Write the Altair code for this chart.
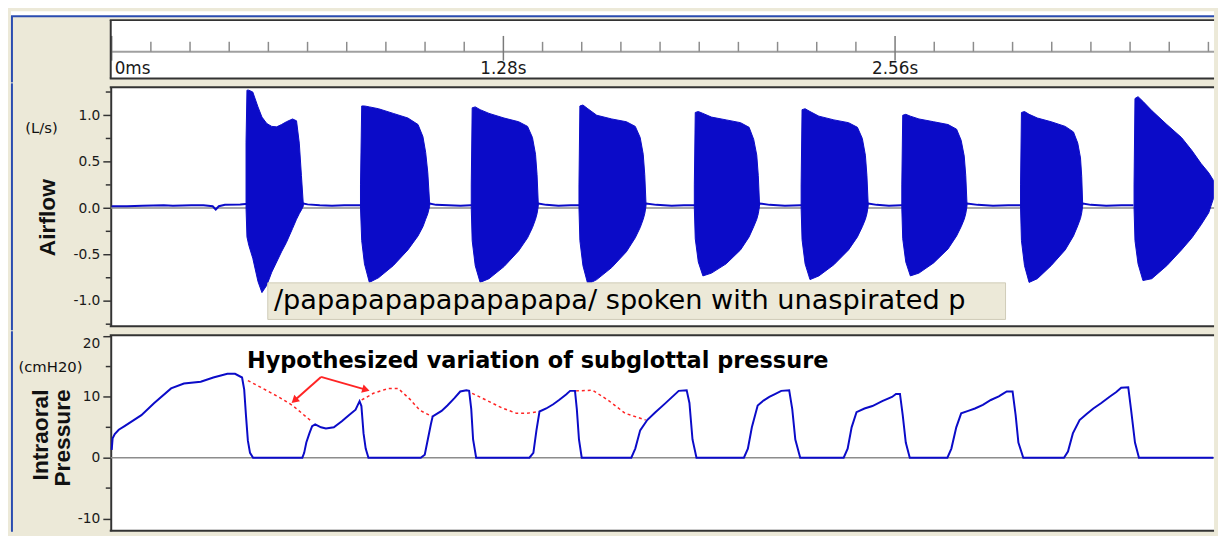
import altair as alt
import pandas as pd

# ---------------- data ----------------
ruler_major_t = [0.0, 1.28, 2.56]
ruler_major_label = ["0ms", "1.28s", "2.56s"]
ruler_minor_t = [0.128, 0.256, 0.384, 0.512, 0.64, 0.768, 0.896, 1.024, 1.152,
                 1.408, 1.536, 1.664, 1.792, 1.92, 2.048, 2.176, 2.304, 2.432,
                 2.688, 2.816, 2.944, 3.072, 3.2, 3.328, 3.456, 3.584]

airflow_ticks = [-1.0, -0.5, 0.0, 0.5, 1.0]
airflow_minor = [-1.25, -0.75, -0.25, 0.25, 0.75, 1.25]
pressure_ticks = [-10, 0, 10, 20]
pressure_minor = [-5, 5, 15]

# airflow between voiced bursts (s, L/s)
flow_base_t = [0.000, 0.050, 0.100, 0.170, 0.200, 0.260, 0.300, 0.330, 0.340, 0.350, 0.370, 0.420, 0.437,
               0.626, 0.640, 0.680, 0.720, 0.760, 0.800, 0.812,
               1.039, 1.060, 1.100, 1.140, 1.173,
               1.394, 1.420, 1.460, 1.500, 1.525,
               1.746, 1.780, 1.830, 1.870, 1.902,
               2.117, 2.150, 2.200, 2.251,
               2.472, 2.500, 2.540, 2.580,
               2.795, 2.830, 2.880, 2.930, 2.968,
               3.173, 3.200, 3.250, 3.300, 3.339]
flow_base_v = [0.02, 0.02, 0.025, 0.03, 0.025, 0.03, 0.03, 0.02, -0.015, 0.02, 0.035, 0.04, 0.045,
               0.05, 0.04, 0.03, 0.025, 0.03, 0.03, 0.03,
               0.05, 0.035, 0.03, 0.025, 0.03,
               0.05, 0.035, 0.025, 0.03, 0.03,
               0.05, 0.035, 0.025, 0.03, 0.03,
               0.05, 0.035, 0.025, 0.03,
               0.05, 0.035, 0.025, 0.03,
               0.05, 0.035, 0.025, 0.03, 0.03,
               0.05, 0.035, 0.025, 0.03, 0.03]

# voiced bursts: time, upper envelope, lower envelope
b1_t = [0.439, 0.442, 0.448, 0.461, 0.478, 0.491, 0.507, 0.523, 0.539, 0.555, 0.571, 0.591, 0.604, 0.613, 0.620, 0.626]
b1_up = [0.71, 1.27, 1.27, 1.25, 1.09, 0.98, 0.91, 0.88, 0.875, 0.90, 0.93, 0.96, 0.94, 0.70, 0.35, 0.05]
b1_lo = [0.0, -0.31, -0.40, -0.54, -0.79, -0.91, -0.83, -0.69, -0.58, -0.47, -0.37, -0.22, -0.12, -0.06, -0.02, 0.02]

b2_t = [0.813, 0.817, 0.826, 0.842, 0.872, 0.920, 0.968, 1.001, 1.017, 1.026, 1.033, 1.039]
b2_up = [0.25, 1.10, 1.10, 1.09, 1.07, 1.02, 0.97, 0.90, 0.77, 0.60, 0.38, 0.05]
b2_lo = [0.0, -0.35, -0.60, -0.80, -0.75, -0.62, -0.45, -0.30, -0.20, -0.12, -0.06, 0.02]

b3_t = [1.175, 1.178, 1.188, 1.204, 1.233, 1.282, 1.330, 1.359, 1.375, 1.385, 1.390, 1.394]
b3_up = [0.25, 1.08, 1.09, 1.06, 1.02, 0.97, 0.93, 0.88, 0.76, 0.58, 0.36, 0.05]
b3_lo = [0.0, -0.35, -0.62, -0.80, -0.76, -0.63, -0.46, -0.32, -0.21, -0.12, -0.06, 0.02]

b4_t = [1.527, 1.530, 1.540, 1.556, 1.585, 1.634, 1.682, 1.711, 1.727, 1.737, 1.742, 1.746]
b4_up = [0.25, 1.10, 1.11, 1.07, 1.00, 0.96, 0.93, 0.88, 0.76, 0.58, 0.36, 0.05]
b4_lo = [0.0, -0.35, -0.62, -0.82, -0.77, -0.64, -0.47, -0.32, -0.21, -0.12, -0.06, 0.02]

b5_t = [1.904, 1.907, 1.917, 1.932, 1.960, 2.008, 2.055, 2.083, 2.098, 2.108, 2.113, 2.117]
b5_up = [0.25, 1.03, 1.04, 1.02, 0.98, 0.95, 0.92, 0.87, 0.74, 0.57, 0.35, 0.05]
b5_lo = [0.0, -0.33, -0.58, -0.73, -0.70, -0.60, -0.45, -0.31, -0.20, -0.12, -0.06, 0.02]

b6_t = [2.253, 2.256, 2.266, 2.282, 2.311, 2.360, 2.408, 2.437, 2.453, 2.463, 2.468, 2.472]
b6_up = [0.25, 1.06, 1.07, 1.04, 0.99, 0.95, 0.92, 0.87, 0.75, 0.57, 0.35, 0.05]
b6_lo = [0.0, -0.34, -0.60, -0.77, -0.73, -0.61, -0.45, -0.31, -0.20, -0.12, -0.06, 0.02]

b7_t = [2.582, 2.585, 2.595, 2.610, 2.638, 2.686, 2.733, 2.761, 2.776, 2.786, 2.791, 2.795]
b7_up = [0.25, 1.00, 1.01, 0.99, 0.96, 0.93, 0.90, 0.85, 0.73, 0.56, 0.35, 0.05]
b7_lo = [0.0, -0.33, -0.58, -0.73, -0.70, -0.59, -0.44, -0.30, -0.20, -0.12, -0.06, 0.02]

b8_t = [2.970, 2.973, 2.983, 2.998, 3.025, 3.070, 3.116, 3.143, 3.157, 3.166, 3.170, 3.173]
b8_up = [0.25, 1.03, 1.04, 1.01, 0.97, 0.93, 0.88, 0.82, 0.70, 0.54, 0.34, 0.05]
b8_lo = [0.0, -0.35, -0.62, -0.80, -0.76, -0.62, -0.45, -0.30, -0.19, -0.11, -0.05, 0.02]

b9_t = [3.341, 3.344, 3.354, 3.370, 3.399, 3.448, 3.496, 3.530, 3.560, 3.585, 3.600]
b9_up = [0.25, 1.18, 1.20, 1.15, 1.05, 0.90, 0.76, 0.62, 0.48, 0.38, 0.30]
b9_lo = [0.0, -0.35, -0.60, -0.78, -0.76, -0.62, -0.45, -0.32, -0.18, -0.05, 0.10]

# intraoral pressure (s, cmH2O)
pres_t = [0.000, 0.003, 0.010, 0.023, 0.042, 0.097, 0.139, 0.194, 0.236, 0.291, 0.332, 0.378, 0.403, 0.426, 0.433, 0.439, 0.445, 0.452, 0.462,
          0.623, 0.629, 0.636, 0.646, 0.655, 0.665, 0.684, 0.700, 0.726, 0.752, 0.775, 0.797, 0.810, 0.816, 0.823, 0.830, 0.839,
          1.010, 1.023, 1.033, 1.043, 1.049, 1.078, 1.097, 1.120, 1.139, 1.159, 1.168, 1.175, 1.181, 1.191,
          1.365, 1.378, 1.388, 1.398, 1.420, 1.443, 1.462, 1.485, 1.498, 1.514, 1.520, 1.527, 1.536,
          1.698, 1.711, 1.727, 1.750, 1.775, 1.808, 1.853, 1.879, 1.888, 1.898, 1.911,
          2.066, 2.079, 2.092, 2.111, 2.130, 2.149, 2.169, 2.188, 2.214, 2.224, 2.234, 2.250,
          2.392, 2.405, 2.418, 2.434, 2.460, 2.486, 2.518, 2.550, 2.563, 2.576, 2.585, 2.595, 2.608,
          2.731, 2.744, 2.760, 2.776, 2.799, 2.821, 2.847, 2.873, 2.899, 2.912, 2.925, 2.944, 2.954, 2.963, 2.979,
          3.112, 3.125, 3.141, 3.163, 3.186, 3.208, 3.234, 3.260, 3.283, 3.299, 3.322, 3.331, 3.344, 3.357,
          3.600]
pres_v = [1.3, 3.2, 3.9, 4.6, 5.2, 7.0, 9.0, 11.4, 12.2, 12.5, 13.2, 13.8, 13.8, 13.2, 11.2, 6.8, 2.8, 0.8, 0.0,
          0.0, 0.8, 2.5, 4.0, 5.2, 5.5, 5.0, 4.8, 5.0, 6.0, 7.0, 7.9, 9.3, 8.5, 4.0, 1.5, 0.0,
          0.0, 0.5, 3.0, 5.5, 6.8, 7.7, 8.6, 9.8, 10.9, 11.1, 11.0, 8.0, 3.0, 0.0,
          0.0, 0.8, 4.5, 7.6, 8.1, 8.8, 9.5, 10.4, 11.0, 11.0, 8.0, 3.0, 0.0,
          0.0, 1.5, 4.5, 6.2, 7.4, 8.9, 11.0, 11.1, 9.0, 3.0, 0.0,
          0.0, 1.5, 5.0, 8.6, 9.4, 10.0, 10.5, 11.0, 11.1, 8.0, 3.0, 0.0,
          0.0, 1.5, 5.0, 7.5, 8.1, 8.5, 9.3, 10.0, 10.5, 10.5, 7.0, 2.5, 0.0,
          0.0, 1.5, 5.0, 7.3, 7.7, 8.1, 8.7, 9.5, 10.1, 10.5, 10.9, 10.9, 7.0, 2.5, 0.0,
          0.0, 1.0, 4.0, 6.2, 7.2, 8.1, 9.0, 10.0, 10.8, 11.5, 11.6, 8.0, 2.5, 0.0,
          0.0]

# hypothesized subglottal pressure (dashed red), visible segments
sub1_t = [0.445, 0.494, 0.549, 0.591, 0.655]
sub1_v = [12.7, 11.4, 9.9, 8.6, 5.9]
sub2_t = [0.817, 0.855, 0.904, 0.936, 0.975, 1.007, 1.046]
sub2_v = [9.5, 10.6, 11.4, 11.4, 9.6, 7.8, 6.8]
sub3_t = [1.178, 1.227, 1.275, 1.323, 1.356, 1.398]
sub3_v = [10.6, 9.4, 8.2, 7.3, 7.3, 7.6]
sub4_t = [1.517, 1.572, 1.624, 1.678, 1.745]
sub4_v = [11.0, 11.1, 9.4, 7.3, 6.2]

# annotation arrows (origin -> head)
arrow_from = (0.684, 13.3)
arrow_heads = [(0.600, 9.55), (0.827, 11.24)]

note_text = "Hypothesized variation of subglottal pressure"
note_pos = (0.442, 14.8)
box_text = "/papapapapapapapapa/ spoken with unaspirated p"
box_extent = (0.510, 2.921, -0.805, -1.199)
box_text_pos = (0.530, -1.0)

# ---------------- styling / layout ----------------
BLUE = "#0b0bc8"
RED = "#ff2424"
BEIGE = "#ece9d8"
FRAME = "#333333"
XPBLUE = "#2a4cb0"
T0, T1 = -0.0032, 3.6024
W = 1117
H_R, H_A, H_P = 59, 242, 198

xs = alt.Scale(domain=[T0, T1], nice=False, zero=False)
ya = alt.Scale(domain=[-1.273, 1.301], nice=False, zero=False)
yp = alt.Scale(domain=[-12.03, 20.16], nice=False, zero=False)


def X(field="t"):
    return alt.X(f"{field}:Q", scale=xs, axis=None)


axis_common = dict(tickSize=8, tickColor=FRAME, tickWidth=1.5, domainColor=FRAME, domainWidth=2,
                   labelFont="DejaVu Sans", labelFontSize=14, labelColor="#1a1a1a", labelPadding=3,
                   grid=False, title=None)
air_axis = alt.Axis(values=airflow_ticks, labelFlush=False,
                    labelExpr="datum.value < 0 ? '-' + format(-datum.value, '.1f') : format(datum.value, '.1f')",
                    **axis_common)
pres_axis = alt.Axis(values=pressure_ticks, labelFlush=3,
                     labelExpr="datum.value < 0 ? '-' + format(-datum.value, 'd') : format(datum.value, 'd')",
                     **axis_common)

one = pd.DataFrame({"k": [0]})


def frame(h, left_rule, top_blue=False, blue_bottom=4):
    layers = []
    if top_blue:
        # white strip above the window frame
        layers.append(alt.Chart(one).mark_rule(color="white", strokeWidth=5)
                      .encode(x=alt.value(-101), x2=alt.value(W), y=alt.value(-6.5)))
    layers += [
        alt.Chart(one).mark_rule(color=FRAME, strokeWidth=2).encode(x=alt.value(-1), x2=alt.value(W), y=alt.value(0)),
        alt.Chart(one).mark_rule(color=FRAME, strokeWidth=2).encode(x=alt.value(-1), x2=alt.value(W), y=alt.value(h)),
        alt.Chart(one).mark_rule(color=XPBLUE, strokeWidth=2).encode(x=alt.value(-100), y=alt.value(-4), y2=alt.value(h + blue_bottom)),
    ]
    if left_rule:
        layers.append(alt.Chart(one).mark_rule(color=FRAME, strokeWidth=2).encode(x=alt.value(0), y=alt.value(0), y2=alt.value(h)))
    if top_blue:
        layers.append(alt.Chart(one).mark_rule(color=XPBLUE, strokeWidth=2).encode(x=alt.value(-101), x2=alt.value(W), y=alt.value(-4)))
    return layers


def label(text, x, y, size, font="DejaVu Sans", weight="normal", angle=0, align="center"):
    return alt.Chart(pd.DataFrame({"s": [text]})).mark_text(
        font=font, fontSize=size, fontWeight=weight, angle=angle, align=align, baseline="middle", color="#111111"
    ).encode(text="s:N", x=alt.value(x), y=alt.value(y))


# ---------------- ruler ----------------
df_major = pd.DataFrame({"t": ruler_major_t, "lab": ruler_major_label})
df_minor = pd.DataFrame({"t": ruler_minor_t})
ruler = alt.layer(
    alt.Chart(one).mark_rule(color="#a0a0a0", strokeWidth=2).encode(x=alt.value(0), x2=alt.value(W), y=alt.value(32)),
    alt.Chart(df_minor).mark_rule(color="#8c8c8c", strokeWidth=1.5).encode(x=X(), y=alt.value(22), y2=alt.value(32)),
    alt.Chart(df_major).mark_rule(color="#7a7a7a", strokeWidth=1.5).encode(x=X(), y=alt.value(16), y2=alt.value(41)),
    alt.Chart(df_major.iloc[:1]).mark_text(font="DejaVu Sans", fontSize=17, align="left", dx=3, baseline="alphabetic", color="#1a1a1a")
       .encode(x=X(), y=alt.value(55), text="lab:N"),
    alt.Chart(df_major.iloc[1:]).mark_text(font="DejaVu Sans", fontSize=17, align="center", baseline="alphabetic", color="#1a1a1a")
       .encode(x=X(), y=alt.value(55), text="lab:N"),
    *frame(H_R, left_rule=True, top_blue=True),
).properties(width=W, height=H_R)

# ---------------- airflow ----------------
bursts = [(b1_t, b1_up, b1_lo), (b2_t, b2_up, b2_lo), (b3_t, b3_up, b3_lo), (b4_t, b4_up, b4_lo),
          (b5_t, b5_up, b5_lo), (b6_t, b6_up, b6_lo), (b7_t, b7_up, b7_lo), (b8_t, b8_up, b8_lo),
          (b9_t, b9_up, b9_lo)]
df_b = pd.concat([pd.DataFrame({"t": t, "up": u, "lo": l, "burst": i}) for i, (t, u, l) in enumerate(bursts)])
df_base = pd.DataFrame({"t": flow_base_t, "v": flow_base_v})
df_box = pd.DataFrame({"t1": [box_extent[0]], "t2": [box_extent[1]], "v1": [box_extent[2]], "v2": [box_extent[3]]})
df_boxtxt = pd.DataFrame({"t": [box_text_pos[0]], "v": [box_text_pos[1]], "s": [box_text]})
df_aminor = pd.DataFrame({"v": airflow_minor})

airflow = alt.layer(
    alt.Chart(pd.DataFrame({"v": [0.0]})).mark_rule(color="#8c8c8c", strokeWidth=1.5)
       .encode(y=alt.Y("v:Q", scale=ya, axis=air_axis)),
    alt.Chart(df_base).mark_line(color=BLUE, strokeWidth=2)
       .encode(x=X(), y=alt.Y("v:Q", scale=ya, axis=air_axis)),
    alt.Chart(df_b).mark_area(color=BLUE, opacity=1, stroke=BLUE, strokeWidth=1)
       .encode(x=X(), y=alt.Y("up:Q", scale=ya, axis=air_axis), y2="lo:Q", detail="burst:N"),
    alt.Chart(df_box).mark_rect(fill=BEIGE, stroke="#cfcbb8", strokeWidth=1)
       .encode(x=X("t1"), x2="t2:Q", y=alt.Y("v1:Q", scale=ya, axis=air_axis), y2="v2:Q"),
    alt.Chart(df_boxtxt).mark_text(font="DejaVu Sans", fontSize=27.5, align="left", baseline="middle", color="#000000")
       .encode(x=X(), y=alt.Y("v:Q", scale=ya, axis=air_axis), text="s:N"),
    alt.Chart(df_aminor).mark_rule(color=FRAME, strokeWidth=1.5)
       .encode(x=alt.value(-5), x2=alt.value(0), y=alt.Y("v:Q", scale=ya, axis=air_axis)),
    *frame(H_A, left_rule=False),
    label("(L/s)", -70, 41, 15),
    label("Airflow", -63, 132, 23, font="Liberation Sans", weight="bold", angle=270),
).properties(width=W, height=H_A)

# ---------------- pressure ----------------
df_p = pd.DataFrame({"t": pres_t, "v": pres_v})
subs = [(sub1_t, sub1_v), (sub2_t, sub2_v), (sub3_t, sub3_v), (sub4_t, sub4_v)]
df_sub = pd.concat([pd.DataFrame({"t": t, "v": v, "seg": i}) for i, (t, v) in enumerate(subs)])
df_arrow = pd.DataFrame({"t": [arrow_from[0]] * 2, "v": [arrow_from[1]] * 2,
                         "t2": [h[0] for h in arrow_heads], "v2": [h[1] for h in arrow_heads]})
df_head1 = pd.DataFrame({"t": [arrow_heads[0][0]], "v": [arrow_heads[0][1]]})
df_head2 = pd.DataFrame({"t": [arrow_heads[1][0]], "v": [arrow_heads[1][1]]})
df_note = pd.DataFrame({"t": [note_pos[0]], "v": [note_pos[1]], "s": [note_text]})
df_pminor = pd.DataFrame({"v": pressure_minor})

pressure = alt.layer(
    alt.Chart(pd.DataFrame({"v": [0.0]})).mark_rule(color="#8c8c8c", strokeWidth=1.5)
       .encode(y=alt.Y("v:Q", scale=yp, axis=pres_axis)),
    alt.Chart(df_sub).mark_line(color=RED, strokeWidth=1.5, strokeDash=[3, 3])
       .encode(x=X(), y=alt.Y("v:Q", scale=yp, axis=pres_axis), detail="seg:N"),
    alt.Chart(df_p).mark_line(color=BLUE, strokeWidth=2)
       .encode(x=X(), y=alt.Y("v:Q", scale=yp, axis=pres_axis)),
    alt.Chart(df_arrow).mark_rule(color=RED, strokeWidth=2)
       .encode(x=X(), x2="t2:Q", y=alt.Y("v:Q", scale=yp, axis=pres_axis), y2="v2:Q"),
    alt.Chart(df_head1).mark_point(shape="triangle", filled=True, size=75, angle=228, color=RED, opacity=1)
       .encode(x=X(), y=alt.Y("v:Q", scale=yp, axis=pres_axis)),
    alt.Chart(df_head2).mark_point(shape="triangle", filled=True, size=75, angle=106, color=RED, opacity=1)
       .encode(x=X(), y=alt.Y("v:Q", scale=yp, axis=pres_axis)),
    alt.Chart(df_note).mark_text(font="DejaVu Sans", fontWeight="bold", fontSize=22.7, align="left",
                                 baseline="alphabetic", color="#000000")
       .encode(x=X(), y=alt.Y("v:Q", scale=yp, axis=pres_axis), text="s:N"),
    alt.Chart(df_pminor).mark_rule(color=FRAME, strokeWidth=1.5)
       .encode(x=alt.value(-5), x2=alt.value(0), y=alt.Y("v:Q", scale=yp, axis=pres_axis)),
    *frame(H_P, left_rule=False, blue_bottom=1),
    label("(cmH20)", -61, 32, 15),
    label("Intraoral", -71, 101, 23, font="Liberation Sans", weight="bold", angle=270),
    label("Pressure", -48, 104, 23, font="Liberation Sans", weight="bold", angle=270),
).properties(width=W, height=H_P)

chart = alt.vconcat(ruler, airflow, pressure, spacing=9, bounds="flush").properties(
    background=BEIGE,
    padding={"left": 0, "top": 0, "right": 0, "bottom": 0},
).configure_view(stroke=None, fill="white")

chart.save("out.html", embed_options={"renderer": "svg", "actions": False})
